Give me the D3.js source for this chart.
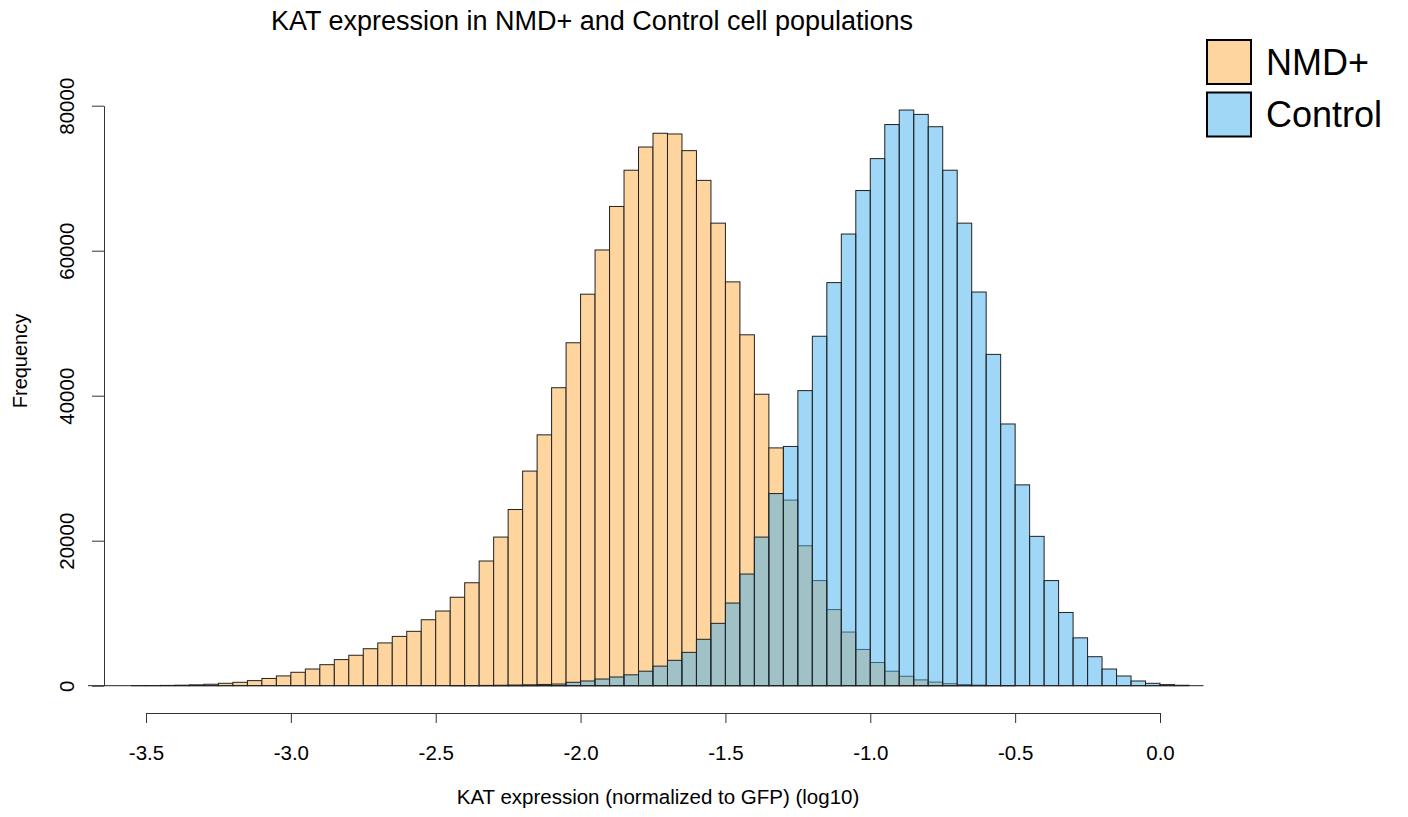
<!DOCTYPE html>
<html>
<head>
<meta charset="utf-8">
<script src="https://cdn.jsdelivr.net/npm/d3@7"></script>
<style>
  body { margin: 0; background: #fff; }
  svg text { font-family: "Liberation Sans", Arial, Helvetica, sans-serif; fill: #000; }
</style>
</head>
<body>
<div id="chart"></div>
<script>
// histogram bins, width 0.05 on log10 scale
const binWidth = 0.05;

const nmdStart = -3.70;
const nmdCounts = [
  0, 0, 0, 10, 20, 40, 70, 120, 200, 330,
  470, 700, 1000, 1350, 1850, 2300, 2900, 3600, 4200, 5100,
  5900, 6800, 7500, 9100, 10300, 12200, 14200, 17200, 20500, 24300,
  29600, 34600, 41100, 47300, 54000, 60100, 66100, 71100, 74300, 76200,
  76100, 73800, 69700, 63800, 55700, 48400, 40200, 32800, 25600, 19300,
  14500, 10500, 7400, 5000, 3200, 2000, 1300, 800, 500, 280,
  150, 80, 30, 10
];

const ctrlStart = -2.45;
const ctrlCounts = [
  10, 20, 40, 60, 90, 120, 170, 230, 470, 650,
  920, 1200, 1500, 2000, 2700, 3500, 4600, 6400, 8600, 11400,
  15400, 20500, 26500, 33000, 40700, 48200, 55600, 62300, 68300, 72700,
  77400, 79400, 78800, 77100, 71100, 63800, 54300, 45700, 36100, 27700,
  20600, 14500, 10100, 6600, 4000, 2300, 1340, 650, 330, 150,
  60, 0
];

const xTicks = [-3.5, -3.0, -2.5, -2.0, -1.5, -1.0, -0.5, 0.0];
const yTicks = [0, 20000, 40000, 60000, 80000];
const seriesNames = ["NMD+", "Control"];
const seriesColors = ["#ffd59f", "rgba(66,174,238,0.5)"];

const width = 1408;
const height = 817;

const svg = d3.select("#chart")
  .append("svg")
  .attr("width", width)
  .attr("height", height);

const x = d3.scaleLinear()
  .domain([-3.5, 0])
  .range([146, 1160]);

const y = d3.scaleLinear()
  .domain([0, 80000])
  .range([685.7, 105.7]);

function toBins(start, counts) {
  return counts.map((c, i) => {
    const x0 = +(start + i * binWidth).toFixed(2);
    return { x0: x0, x1: +(x0 + binWidth).toFixed(2), count: c };
  });
}

const series = [toBins(nmdStart, nmdCounts), toBins(ctrlStart, ctrlCounts)];

series.forEach((bins, k) => {
  svg.append("g")
    .attr("fill", seriesColors[k])
    .attr("stroke", "#222")
    .attr("stroke-width", 1)
    .selectAll("rect")
    .data(bins)
    .join("rect")
      .attr("x", d => x(d.x0))
      .attr("y", d => y(d.count))
      .attr("width", d => x(d.x1) - x(d.x0))
      .attr("height", d => y(0) - y(d.count));
});

// empty bins still leave their bottom edge, like R's hist()
const allBins = series.flat();
svg.append("line")
  .attr("x1", x(d3.min(allBins, d => d.x0)))
  .attr("x2", x(d3.max(allBins, d => d.x1)))
  .attr("y1", y(0))
  .attr("y2", y(0))
  .attr("stroke", "#222");

// x axis
const xAxis = svg.append("g")
  .attr("transform", "translate(0,713)")
  .call(d3.axisBottom(x)
    .tickValues(xTicks)
    .tickFormat(d => d.toFixed(1))
    .tickSize(10)
    .tickSizeOuter(0)
    .tickPadding(22));
xAxis.selectAll("text").attr("font-size", "20.5px").attr("font-family", null);
xAxis.selectAll("path, line").attr("stroke", "#333");

// y axis, labels parallel to axis like R
const yAxis = svg.append("g")
  .attr("transform", "translate(104,0)")
  .call(d3.axisLeft(y)
    .tickValues(yTicks)
    .tickFormat(d3.format("d"))
    .tickSize(12)
    .tickSizeOuter(0));
yAxis.selectAll("text")
  .attr("font-size", "20.5px")
  .attr("font-family", null)
  .attr("text-anchor", "middle")
  .attr("x", null)
  .attr("dy", "0.35em")
  .attr("transform", "translate(-37,0) rotate(-90)");
yAxis.selectAll("path, line").attr("stroke", "#333");

// titles
svg.append("text")
  .attr("x", 592)
  .attr("y", 30)
  .attr("text-anchor", "middle")
  .attr("font-size", "27px")
  .text("KAT expression in NMD+ and Control cell populations");

svg.append("text")
  .attr("x", 658)
  .attr("y", 804)
  .attr("text-anchor", "middle")
  .attr("font-size", "20.5px")
  .text("KAT expression (normalized to GFP) (log10)");

svg.append("text")
  .attr("transform", "translate(27,361) rotate(-90)")
  .attr("text-anchor", "middle")
  .attr("font-size", "20px")
  .text("Frequency");

// legend
const legend = svg.append("g").attr("transform", "translate(1207,40)");
const item = legend.selectAll("g")
  .data(seriesNames)
  .join("g")
    .attr("transform", (d, i) => `translate(0,${i * 52.5})`);
item.append("rect")
  .attr("width", 44)
  .attr("height", 44)
  .attr("fill", (d, i) => seriesColors[i])
  .attr("stroke", "#000")
  .attr("stroke-width", 2);
item.append("text")
  .attr("x", 59)
  .attr("y", 22)
  .attr("dy", "0.36em")
  .attr("font-size", "36px")
  .text(d => d);
</script>
</body>
</html>
